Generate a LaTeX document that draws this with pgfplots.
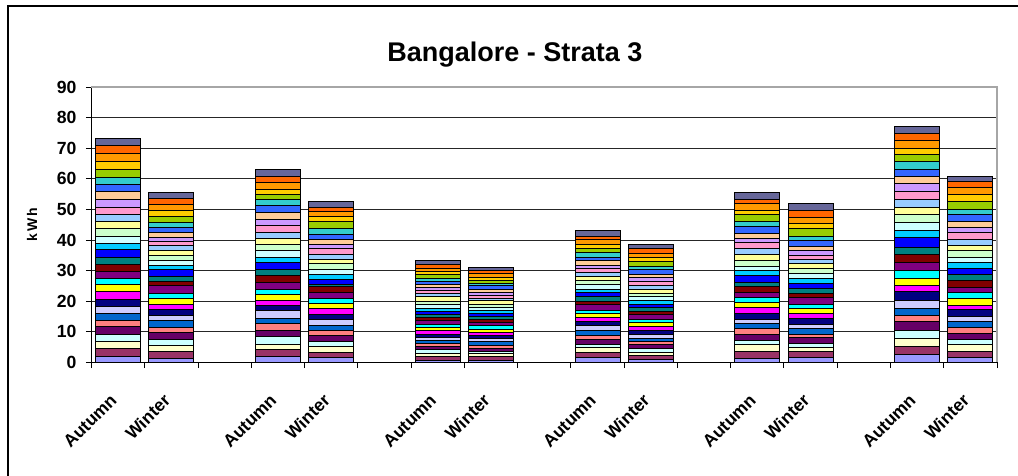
\documentclass[border=0pt]{standalone}
\usepackage{pgfplots}
\usepackage{pgfplotstable}
\pgfplotsset{compat=1.18}
\usepackage{fontspec}
\setmainfont{Liberation Sans}

% Excel default series palette
\definecolor{c1}{HTML}{9999FF}\definecolor{c2}{HTML}{993366}\definecolor{c3}{HTML}{FFFFCC}
\definecolor{c4}{HTML}{CCFFFF}\definecolor{c5}{HTML}{660066}\definecolor{c6}{HTML}{FF8080}
\definecolor{c7}{HTML}{0066CC}\definecolor{c8}{HTML}{CCCCFF}\definecolor{c9}{HTML}{000080}
\definecolor{c10}{HTML}{FF00FF}\definecolor{c11}{HTML}{FFFF00}\definecolor{c12}{HTML}{00FFFF}
\definecolor{c13}{HTML}{800080}\definecolor{c14}{HTML}{800000}\definecolor{c15}{HTML}{008080}
\definecolor{c16}{HTML}{0000FF}\definecolor{c17}{HTML}{00CCFF}\definecolor{c18}{HTML}{CCFFFF}
\definecolor{c19}{HTML}{CCFFCC}\definecolor{c20}{HTML}{FFFF99}\definecolor{c21}{HTML}{99CCFF}
\definecolor{c22}{HTML}{FF99CC}\definecolor{c23}{HTML}{CC99FF}\definecolor{c24}{HTML}{FFCC99}
\definecolor{c25}{HTML}{3366FF}\definecolor{c26}{HTML}{33CCCC}\definecolor{c27}{HTML}{99CC00}
\definecolor{c28}{HTML}{FFCC00}\definecolor{c29}{HTML}{FF9900}\definecolor{c30}{HTML}{FF6600}
\definecolor{c31}{HTML}{666699}

% one row per bar (x position), one column per stacked series
\pgfplotstableread{
x  s1  s2  s3  s4  s5  s6  s7  s8  s9  s10 s11 s12 s13 s14 s15 s16 s17 s18 s19 s20 s21 s22 s23 s24 s25 s26 s27 s28 s29 s30 s31
0  2.0 2.6 2.3 2.3 2.4 2.2 2.2 2.2 2.4 2.6 2.2 2.2 2.2 2.2 2.4 2.4 2.2 2.2 2.6 2.2 2.2 2.6 2.4 2.6 2.2 2.6 2.6 2.4 2.6 2.6 2.3
1  1.4 2.1 1.9 2.2 2.2 1.6 2.2 1.6 2.2 1.6 1.9 1.8 2.3 1.5 1.6 2.2 1.3 1.6 1.9 1.4 1.6 1.3 1.4 1.6 1.6 1.6 2.2 1.9 2.0 2.0 1.9
3  2.1 2.2 1.5 2.6 2.2 2.2 1.7 2.6 1.6 1.4 2.2 1.7 2.2 2.2 2.1 2.3 1.6 2.3 2.0 1.7 2.0 2.2 2.2 2.2 2.2 2.0 1.7 1.5 2.4 2.0 2.2
4  1.5 1.8 1.8 1.8 2.0 1.5 1.8 1.8 1.8 1.8 1.8 1.6 2.0 1.7 0.7 1.6 1.7 1.8 2.0 1.0 1.7 1.9 1.5 1.7 1.6 1.9 2.2 1.6 1.6 1.6 1.8
6  0.8 1.1 1.0 1.2 1.0 1.1 1.1 0.9 1.0 1.2 1.1 1.0 1.1 1.1 1.0 1.0 1.1 1.0 1.1 1.5 1.0 1.0 1.1 1.0 1.1 1.0 1.0 1.1 1.1 1.2 1.2
7  0.8 1.0 1.0 0.9 1.0 1.0 1.1 0.9 1.0 1.1 1.0 1.4 1.0 0.9 1.0 1.0 1.0 1.0 0.9 1.1 0.9 1.0 1.0 1.0 1.0 0.9 1.0 1.0 1.1 1.0 1.0
9  1.5 1.7 1.7 1.0 1.5 1.5 1.7 1.5 1.2 1.5 1.3 1.0 1.7 1.0 1.7 1.3 1.2 1.5 1.2 1.5 1.2 1.2 1.2 1.5 1.1 1.5 1.3 1.3 1.7 1.1 1.7
10 0.9 1.3 1.2 1.1 1.4 0.8 1.3 1.2 1.4 1.2 1.3 1.0 1.5 1.0 1.3 1.2 1.1 1.3 1.2 1.3 1.2 1.2 1.3 1.2 1.5 1.0 1.6 1.3 1.4 1.5 1.3
12 1.4 2.2 2.2 1.5 1.7 2.0 1.7 1.5 1.7 2.2 1.5 1.7 1.5 2.1 1.2 2.2 1.7 1.5 1.7 2.2 2.0 1.7 1.5 1.5 2.2 1.7 2.2 1.5 2.2 1.5 2.3
13 1.5 2.0 1.4 1.4 1.8 0.9 2.0 1.5 1.8 1.6 1.6 1.6 2.2 1.4 1.6 1.6 1.5 1.6 1.6 1.9 1.1 1.5 1.5 1.4 2.0 1.3 2.4 1.8 1.9 2.2 2.4
15 2.7 2.6 2.6 2.6 2.8 2.2 2.2 2.6 2.8 2.2 2.0 2.8 2.6 2.6 2.2 3.3 2.2 2.6 2.6 2.4 2.6 2.8 2.6 2.2 2.2 2.6 2.2 2.2 2.6 2.2 2.3
16 1.6 2.1 2.2 1.5 2.2 1.7 2.2 1.5 2.2 1.5 2.1 2.2 1.6 2.2 2.1 1.7 2.1 1.7 2.2 1.5 2.2 2.2 1.5 2.2 2.2 1.7 2.6 2.2 2.2 2.1 1.7
}\data

\begin{document}
\begin{tikzpicture}
\begin{axis}[
    scale only axis,
    width=452.75pt,
    height=137.75pt,
    ybar stacked,
    bar width=0.845,
    xmin=-0.5, xmax=16.5,
    ymin=0, ymax=90,
    axis lines*=left,
    axis line style={black, line width=0.6pt},
    clip=false,
    xtick={0,1,3,4,6,7,9,10,12,13,15,16},
    xticklabels={Autumn,Winter,Autumn,Winter,Autumn,Winter,Autumn,Winter,Autumn,Winter,Autumn,Winter},
    ytick={0,10,...,90},
    minor xtick={-0.5,0.5,...,16.5},
    minor ytick={0,10,...,90},
    major tick length=0pt,
    minor tick length=2.8pt,
    tick align=outside,
    minor tick style={black, line width=0.5pt},
    ymajorgrids,
    major grid style={black!85, line width=0.5pt},
    /pgf/number format/assume math mode=true,
    yticklabel style={font=\bfseries\fontsize{8.8}{10}\selectfont, xshift=-4pt},
    xticklabel style={font=\bfseries\fontsize{8.8}{10}\selectfont, yshift=-15pt, xshift=-4.5pt,
                      rotate=45, anchor=north east, inner sep=0pt},
]
\pgfplotsinvokeforeach{1,...,31}{
  \addplot[fill=c#1, draw=black, line width=0.5pt] table[x=x, y=s#1]{\data};
}
\draw[gray!70, line width=0.8pt] (rel axis cs:0,1) -- (rel axis cs:1,1) -- (rel axis cs:1,0);
\end{axis}
% title, y label and outer frame
\node[anchor=base, font=\bfseries\fontsize{13.5}{16}\selectfont] at (211.75pt,150.25pt) {Bangalore - Strata 3};
\node[rotate=90, font=\bfseries\fontsize{7}{8}\selectfont] at (-29.75pt,68.9pt) {k\hspace{0.8pt}W\hspace{0.8pt}h};
\draw[black, line width=1pt] (-41.75pt,-70pt) -- (-41.75pt,178.25pt) -- (480pt,178.25pt);
\pgfresetboundingbox
\path[use as bounding box] (-45.75pt,-56.75pt) rectangle (463.25pt,181.25pt);
\end{tikzpicture}
\end{document}
